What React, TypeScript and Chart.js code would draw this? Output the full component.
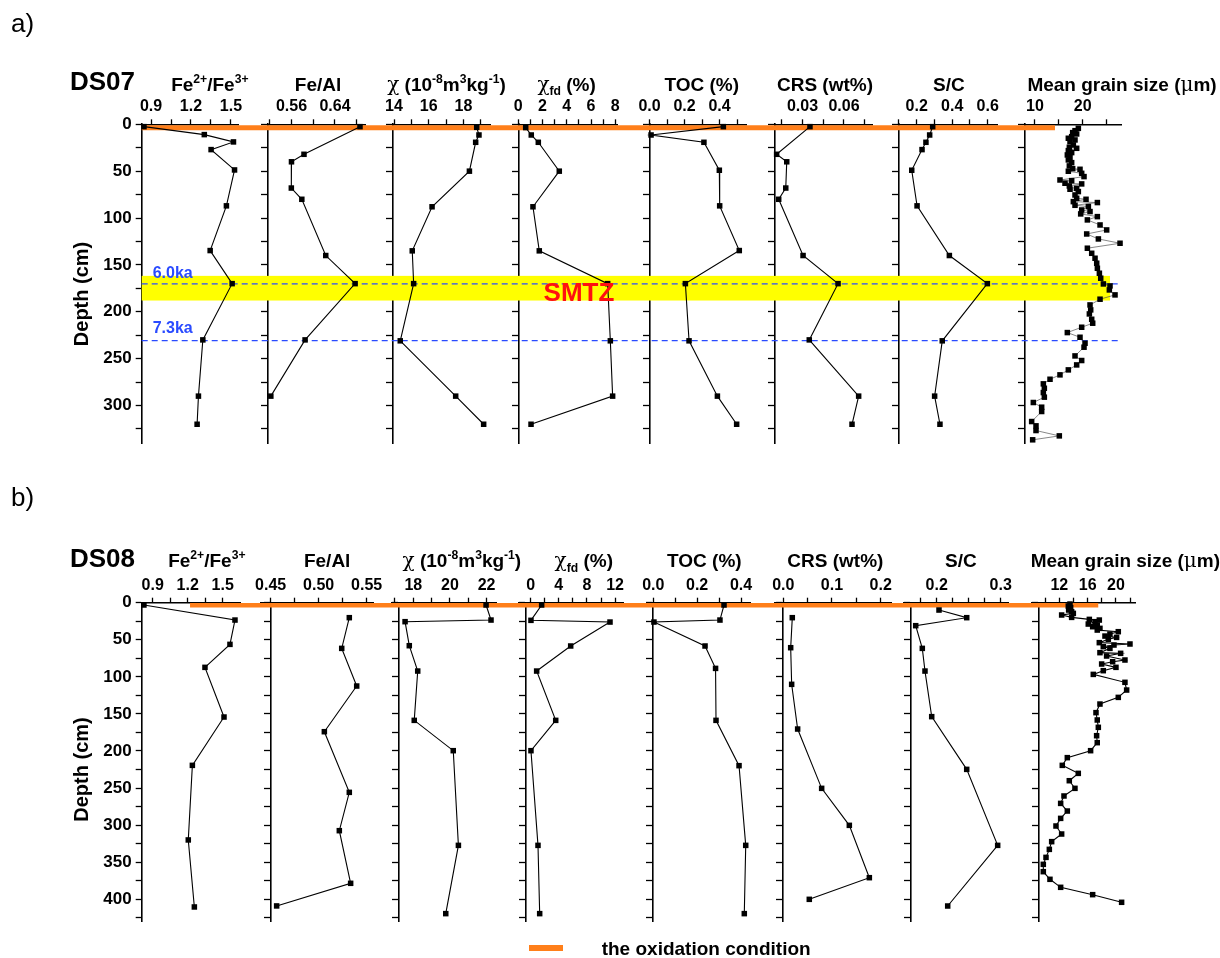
import React, { useEffect, useRef } from 'react';
import { Chart, registerables } from 'chart.js';

Chart.register(...registerables);

const FONT = '"Liberation Sans", Arial, Helvetica, sans-serif';
const ORANGE = '#ff7f1a';
const BLUE = '#2a4bff';

// ================= DS07 (row a) =================
const a1Depth = [2.5, 11, 18.8, 27, 48.7, 87, 134.7, 170, 230, 290, 320];
const a1Fe23 = [0.847, 1.3, 1.519, 1.351, 1.527, 1.466, 1.344, 1.509, 1.289, 1.256, 1.246];
const a2Depth = [2.5, 32, 40, 68, 80, 140, 170, 230, 290];
const a2FeAl = [0.686, 0.583, 0.56, 0.5597, 0.579, 0.623, 0.677, 0.585, 0.522];
const a3Depth = [3.2, 11.4, 19.2, 50, 88, 135, 170, 231, 290, 320];
const a3Chi = [18.76, 18.89, 18.7, 18.34, 16.19, 15.05, 15.13, 14.36, 17.55, 19.16];
const a4Depth = [3.5, 11.4, 19.2, 50, 88, 135, 170, 231, 290, 320];
const a4ChiFd = [0.61, 1.07, 1.65, 3.38, 1.21, 1.73, 7.37, 7.59, 7.78, 1.05];
const a5Depth = [2.5, 11.4, 19.2, 49, 87, 134.7, 170, 231, 290, 320];
const a5Toc = [0.422, 0.009, 0.311, 0.399, 0.401, 0.513, 0.205, 0.226, 0.388, 0.498];
const a6Depth = [2.5, 32, 40, 68, 80, 140, 170, 230, 290, 320];
const a6Crs = [0.0354, 0.0113, 0.0186, 0.0179, 0.0128, 0.0304, 0.0557, 0.0349, 0.0706, 0.0658];
const a7Depth = [2.5, 11.4, 19.2, 27, 49, 87, 140, 170, 231, 290, 320];
const a7SC = [0.29, 0.273, 0.252, 0.23, 0.172, 0.202, 0.384, 0.598, 0.344, 0.301, 0.331];
const a8Depth = [
  4.3, 6.8, 8.9, 10.3, 13.2, 14.9, 16.7, 18.5, 22.0, 24.5, 25.6, 28.1, 30.2, 32.7, 35.2, 38.0,
  40.9, 44.4, 47.3, 48.0, 50.1, 52.3, 55.8, 59.4, 60.1, 62.9, 63.6, 65.8, 68.3, 69.3, 71.8, 75.4,
  78.9, 80.0, 82.5, 83.5, 86.4, 87.8, 91.4, 93.1, 95.6, 98.5, 102.0, 107.4, 112.7, 117.0, 122.3,
  126.9, 132.2, 137.6, 142.9, 148.2, 153.6, 158.9, 164.2, 170.3, 172.4, 176.7, 182.0, 186.6,
  192.7, 198.0, 202.3, 208.0, 212.2, 216.5, 222.2, 227.2, 233.6, 237.8, 247.1, 252.0, 256.7,
  262.0, 267.3, 272.0, 276.9, 281.6, 286.2, 291.1, 296.8, 301.8, 306.4, 317.1, 321.7, 326.7,
  332.4, 336.6,
];
const a8Grain = [
  19.09, 18.39, 17.9, 18.74, 17.69, 16.99, 18.39, 17.34, 18.04, 17.2, 18.74, 16.99, 17.69, 16.78,
  17.34, 16.99, 17.69, 17.2, 17.9, 19.44, 16.99, 19.79, 20.28, 15.24, 17.69, 16.29, 19.79, 17.2,
  18.74, 17.34, 19.09, 18.39, 18.74, 20.7, 18.04, 23.08, 18.39, 21.19, 19.79, 21.54, 19.58, 23.08,
  20.98, 23.64, 25.03, 20.84, 23.29, 27.83, 20.98, 21.89, 22.59, 22.94, 23.08, 23.5, 23.78, 24.34,
  25.73, 25.59, 26.78, 23.64, 21.54, 21.68, 21.4, 21.89, 22.1, 19.79, 16.78, 19.44, 20.49, 20.28,
  18.39, 19.79, 18.74, 16.99, 15.24, 13.15, 11.75, 11.96, 11.75, 11.96, 9.65, 11.4, 11.4, 9.3,
  10.21, 10.21, 15.1, 9.51,
];

// ================= DS08 (row b) =================
const b1Depth = [3.1, 23.4, 56.2, 87.2, 154.2, 219.4, 320, 410.4];
const b1Fe23 = [0.825, 1.605, 1.562, 1.348, 1.511, 1.24, 1.205, 1.257];
const b2Depth = [20.2, 61.6, 112.4, 174, 255.8, 307.5, 378.5, 409];
const b2FeAl = [0.5319, 0.524, 0.5396, 0.5059, 0.5319, 0.5215, 0.5333, 0.4562];
const b3Depth = [3.1, 23.4, 25.6, 58, 92.2, 158.7, 199.6, 327.3, 419.4];
const b3Chi = [21.97, 22.24, 17.55, 17.78, 18.24, 18.05, 20.18, 20.46, 19.77];
const b4Depth = [3.1, 23.8, 26.1, 58.4, 92.2, 158.7, 199.6, 327.3, 419.4];
const b4ChiFd = [1.56, 0.04, 11.28, 5.69, 0.85, 3.56, 0.04, 1.04, 1.28];
const b5Depth = [3.1, 23.4, 26.1, 58.4, 88.6, 158.7, 219.8, 327.3, 419.4];
const b5Toc = [0.3225, 0.304, 0.003, 0.236, 0.284, 0.286, 0.391, 0.4215, 0.415];
const b6Depth = [20.2, 60.7, 110.1, 170.4, 250.4, 300.3, 370.9, 400.1];
const b6Crs = [0.0185, 0.0152, 0.0172, 0.0295, 0.0788, 0.1356, 0.1767, 0.0534];
const b7Depth = [9.9, 20.2, 31, 61.6, 92.2, 153.7, 224.8, 327.3, 409.1];
const b7SC = [0.2036, 0.2469, 0.1672, 0.1775, 0.1817, 0.1922, 0.2469, 0.2953, 0.2172];
const b8Depth = [
  1.8, 4.5, 6.7, 9.9, 12.1, 14.4, 16.6, 19.8, 22.5, 23.4, 25.6, 28.8, 30.1, 32.4, 34.6, 36.9,
  39.1, 42.3, 45.0, 46.8, 49.4, 53.9, 55.7, 57.1, 59.3, 61.6, 67.4, 68.3, 71.9, 77.3, 79.6, 82.7,
  87.2, 91.7, 96.7, 107.4, 117.8, 127.7, 136.7, 148.3, 158.2, 168.1, 179.4, 188.8, 199.6, 209.0,
  219.4, 230.2, 240.1, 250.4, 260.7, 270.7, 281.0, 290.9, 301.2, 312.0, 322.3, 332.7, 343.5,
  352.9, 362.8, 373.1, 383.9, 393.8, 404.1,
];
const b8Grain = [
  13.51, 13.27, 13.6, 13.32, 13.74, 13.98, 12.33, 13.74, 16.24, 17.65, 17.04, 16.09, 17.36, 16.71,
  17.74, 17.36, 20.33, 19.15, 18.45, 20.09, 18.92, 17.65, 21.98, 19.72, 18.21, 19.15, 17.74, 20.66,
  18.68, 21.27, 19.53, 17.98, 20.0, 18.21, 16.8, 21.27, 21.51, 20.33, 17.74, 17.18, 17.36, 17.51,
  17.27, 17.36, 16.42, 13.13, 12.42, 14.68, 13.41, 14.21, 12.66, 12.19, 13.13, 12.19, 11.53, 12.33,
  10.92, 10.59, 10.12, 9.74, 9.74, 10.68, 12.19, 16.71, 20.8,
];

// ================= Tick values / labels =================
const depthTicksA = [0, 25, 50, 75, 100, 125, 150, 175, 200, 225, 250, 275, 300, 325];
const depthLabelsA = ['0', '', '50', '', '100', '', '150', '', '200', '', '250', '', '300', ''];
const depthTicksB = [0, 25, 50, 75, 100, 125, 150, 175, 200, 225, 250, 275, 300, 325, 350, 375, 400, 425];
const depthLabelsB = ['0', '', '50', '', '100', '', '150', '', '200', '', '250', '', '300', '', '350', '', '400', ''];

const a1Ticks = [0.9, 1.05, 1.2, 1.35, 1.5];
const a1Labels = ['0.9', '', '1.2', '', '1.5'];
const a2Ticks = [0.52, 0.56, 0.6, 0.64, 0.68];
const a2Labels = ['', '0.56', '', '0.64', ''];
const a3Ticks = [14, 15, 16, 17, 18, 19];
const a3Labels = ['14', '', '16', '', '18', ''];
const a4Ticks = [0, 1, 2, 3, 4, 5, 6, 7, 8];
const a4Labels = ['0', '', '2', '', '4', '', '6', '', '8'];
const a5Ticks = [0, 0.1, 0.2, 0.3, 0.4, 0.5];
const a5Labels = ['0.0', '', '0.2', '', '0.4', ''];
const a6Ticks = [0.015, 0.03, 0.045, 0.06, 0.075];
const a6Labels = ['', '0.03', '', '0.06', ''];
const a7Ticks = [0.1, 0.2, 0.3, 0.4, 0.5, 0.6];
const a7Labels = ['', '0.2', '', '0.4', '', '0.6'];
const a8Ticks = [10, 15, 20, 25];
const a8Labels = ['10', '', '20', ''];

const b1Ticks = [0.9, 1.05, 1.2, 1.35, 1.5];
const b1Labels = ['0.9', '', '1.2', '', '1.5'];
const b2Ticks = [0.45, 0.475, 0.5, 0.525, 0.55];
const b2Labels = ['0.45', '', '0.50', '', '0.55'];
const b3Ticks = [17, 18, 19, 20, 21, 22];
const b3Labels = ['', '18', '', '20', '', '22'];
const b4Ticks = [0, 2, 4, 6, 8, 10, 12];
const b4Labels = ['0', '', '4', '', '8', '', '12'];
const b5Ticks = [0, 0.1, 0.2, 0.3, 0.4];
const b5Labels = ['0.0', '', '0.2', '', '0.4'];
const b6Ticks = [0, 0.05, 0.1, 0.15, 0.2];
const b6Labels = ['0.0', '', '0.1', '', '0.2'];
const b7Ticks = [0.175, 0.2, 0.225, 0.25, 0.275, 0.3];
const b7Labels = ['', '0.2', '', '', '', '0.3'];
const b8Ticks = [10, 12, 14, 16, 18, 20, 22];
const b8Labels = ['', '12', '', '16', '', '20', ''];

// ================= Titles (rich text segments) =================
type Seg = [string, string?];
const tFe23: Seg[] = [['Fe'], ['2+', 'sup'], ['/Fe'], ['3+', 'sup']];
const tFeAl: Seg[] = [['Fe/Al']];
const tChi: Seg[] = [['χ', 'g'], [' (10'], ['-8', 'sup'], ['m'], ['3', 'sup'], ['kg'], ['-1', 'sup'], [')']];
const tChiFd: Seg[] = [['χ', 'g'], ['fd', 'sub'], [' (%)']];
const tToc: Seg[] = [['TOC (%)']];
const tCrs: Seg[] = [['CRS (wt%)']];
const tSC: Seg[] = [['S/C']];
const tGrain: Seg[] = [['Mean grain size ('], ['μ', 'g'], ['m)']];

interface PanelSpec {
  id: number;
  title: Seg[];
  titleDx: number;
  min: number;
  max: number;
  yAt: number;
  width: number;
  gap: number;
  ticks: number[];
  labels: string[];
  depth: number[];
  values: number[];
  lineColor?: string;
  lineWidth?: number;
}

interface RowSpec {
  panels: PanelSpec[];
  yMax: number;
  depthTicks: number[];
  depthLabels: string[];
  canvasTop: number;
  canvasH: number;
  padTop: number;
  padBottom: number;
  padRight: number;
  titleRise: number;
  depthLabelAt: number;
  orange: { from: number; to: number; at: number; width: number };
  band?: { from: number; to: number; xEnd: number };
  dashes?: { at: number[]; xEnd: number; labels: string[]; rise: number[] };
  smtz?: { x: number; at: number };
}

const rowA: RowSpec = {
  panels: [
    { id: 1, title: tFe23, titleDx: 20, min: 0.83, max: 1.553, yAt: 0.83, width: 96.3, gap: 30, ticks: a1Ticks, labels: a1Labels, depth: a1Depth, values: a1Fe23 },
    { id: 2, title: tFeAl, titleDx: 1.5, min: 0.5168, max: 0.6952, yAt: 0.5168, width: 97, gap: 28, ticks: a2Ticks, labels: a2Labels, depth: a2Depth, values: a2FeAl },
    { id: 3, title: tChi, titleDx: 5, min: 13.942, max: 19.525, yAt: 13.942, width: 97, gap: 28.3, ticks: a3Ticks, labels: a3Labels, depth: a3Depth, values: a3Chi },
    { id: 4, title: tChiFd, titleDx: -1, min: 0, max: 8.14, yAt: 0, width: 98.7, gap: 32.5, ticks: a4Ticks, labels: a4Labels, depth: a4Depth, values: a4ChiFd },
    { id: 5, title: tToc, titleDx: 3.7, min: 0, max: 0.5554, yAt: 0, width: 97.2, gap: 28.3, ticks: a5Ticks, labels: a5Labels, depth: a5Depth, values: a5Toc },
    { id: 6, title: tCrs, titleDx: 1.5, min: 0.01012, max: 0.08025, yAt: 0.01012, width: 97, gap: 26.3, ticks: a6Ticks, labels: a6Labels, depth: a6Depth, values: a6Crs },
    { id: 7, title: tSC, titleDx: 1.3, min: 0.0963, max: 0.6524, yAt: 0.0963, width: 98.7, gap: 28, ticks: a7Ticks, labels: a7Labels, depth: a7Depth, values: a7SC },
    { id: 8, title: tGrain, titleDx: 48.7, min: 7.904, max: 28.18, yAt: 7.904, width: 96.7, gap: 0, ticks: a8Ticks, labels: a8Labels, depth: a8Depth, values: a8Grain, lineColor: '#555', lineWidth: 0.7 },
  ],
  yMax: 340,
  depthTicks: depthTicksA,
  depthLabels: depthLabelsA,
  canvasTop: 0,
  canvasH: 470,
  padTop: 89.3,
  padBottom: 27,
  padRight: 98.3,
  titleRise: 33.6,
  depthLabelAt: 181,
  orange: { from: 0.83, to: 14.19, at: 3.6, width: 5 },
  band: { from: 161.7, to: 188, xEnd: 25.72 },
  dashes: { at: [170.3, 230.7], xEnd: 27.8, labels: ['6.0ka', '7.3ka'], rise: [5.5, 8] },
  smtz: { x: 5.0, at: 188 },
};

const rowB: RowSpec = {
  panels: [
    { id: 1, title: tFe23, titleDx: 16, min: 0.806, max: 1.648, yAt: 0.806, width: 98.3, gap: 21, ticks: b1Ticks, labels: b1Labels, depth: b1Depth, values: b1Fe23 },
    { id: 2, title: tFeAl, titleDx: 10, min: 0.4399, max: 0.5569, yAt: 0.45, width: 112.3, gap: 18.4, ticks: b2Ticks, labels: b2Labels, depth: b2Depth, values: b2FeAl },
    { id: 3, title: tChi, titleDx: 17.7, min: 16.82, max: 22.55, yAt: 17.22, width: 105, gap: 21.6, ticks: b3Ticks, labels: b3Labels, depth: b3Depth, values: b3Chi },
    { id: 4, title: tChiFd, titleDx: 13, min: -1.76, max: 13.17, yAt: -0.71, width: 105, gap: 23.4, ticks: b4Ticks, labels: b4Labels, depth: b4Depth, values: b4ChiFd },
    { id: 5, title: tToc, titleDx: 6, min: -0.03, max: 0.441, yAt: 0, width: 103.3, gap: 25, ticks: b5Ticks, labels: b5Labels, depth: b5Depth, values: b5Toc },
    { id: 6, title: tCrs, titleDx: 2, min: -0.017, max: 0.2226, yAt: 0, width: 116.7, gap: 11.6, ticks: b6Ticks, labels: b6Labels, depth: b6Depth, values: b6Crs },
    { id: 7, title: tSC, titleDx: 5, min: 0.1478, max: 0.3119, yAt: 0.1594, width: 105, gap: 23.4, ticks: b7Ticks, labels: b7Labels, depth: b7Depth, values: b7SC },
    { id: 8, title: tGrain, titleDx: 42, min: 8.1, max: 22.69, yAt: 9.13, width: 103.3, gap: 0, ticks: b8Ticks, labels: b8Labels, depth: b8Depth, values: b8Grain },
  ],
  yMax: 430,
  depthTicks: depthTicksB,
  depthLabels: depthLabelsB,
  canvasTop: 470,
  canvasH: 488,
  padTop: 97.7,
  padBottom: 36.5,
  padRight: 85,
  titleRise: 35.4,
  depthLabelAt: 225,
  orange: { from: 1.22, to: 17.5, at: 3.5, width: 4.5 },
};

const Y_AXIS_W = 141.7;
const X_AXIS_H = 35;

function drawRich(ctx: CanvasRenderingContext2D, segs: Seg[], cx: number, baseline: number, size: number) {
  const parts = segs.map(([t, m]) => {
    const mode = m || 'n';
    const s = mode === 'sup' || mode === 'sub' ? size * 0.64 : size;
    const font = mode === 'g' ? `${size * 1.05}px "DejaVu Serif", serif` : `bold ${s}px ${FONT}`;
    ctx.font = font;
    const dy = mode === 'sup' ? -size * 0.42 : mode === 'sub' ? size * 0.24 : 0;
    return { t, font, w: ctx.measureText(t).width, dy };
  });
  const total = parts.reduce((acc, p) => acc + p.w, 0);
  let x = cx - total / 2;
  ctx.textAlign = 'left';
  ctx.textBaseline = 'alphabetic';
  ctx.fillStyle = '#000';
  for (const p of parts) {
    ctx.font = p.font;
    ctx.fillText(p.t, x, baseline + p.dy);
    x += p.w;
  }
}

function makeOverlay(row: RowSpec) {
  return {
    id: 'rowOverlay',
    beforeDatasetsDraw(chart: any) {
      const { ctx, scales } = chart;
      const ys = scales.y;
      const n = row.panels.length;
      const first = scales['x' + row.panels[0].id];
      const last = scales['x' + row.panels[n - 1].id];
      ctx.save();
      if (row.band) {
        const t = ys.getPixelForValue(row.band.from);
        const b = ys.getPixelForValue(row.band.to);
        const x2 = last.getPixelForValue(row.band.xEnd);
        ctx.fillStyle = '#ffff00';
        ctx.fillRect(first.left, t, x2 - first.left, b - t);
      }
      if (row.dashes) {
        ctx.strokeStyle = BLUE;
        ctx.lineWidth = 1.3;
        ctx.setLineDash([6, 4]);
        const x2 = last.getPixelForValue(row.dashes.xEnd);
        row.dashes.at.forEach((d) => {
          const y = ys.getPixelForValue(d);
          ctx.beginPath();
          ctx.moveTo(first.left, y);
          ctx.lineTo(x2, y);
          ctx.stroke();
        });
        ctx.setLineDash([]);
      }
      const o = row.orange;
      const oy = ys.getPixelForValue(o.at);
      ctx.strokeStyle = ORANGE;
      ctx.lineWidth = o.width;
      ctx.lineCap = 'butt';
      ctx.beginPath();
      ctx.moveTo(first.getPixelForValue(o.from), oy);
      ctx.lineTo(last.getPixelForValue(o.to), oy);
      ctx.stroke();
      ctx.restore();
    },
    afterDatasetsDraw(chart: any) {
      const { ctx, scales } = chart;
      const ys = scales.y;
      const first = scales['x' + row.panels[0].id];
      ctx.save();
      if (row.dashes) {
        ctx.fillStyle = BLUE;
        ctx.font = `bold 16px ${FONT}`;
        ctx.textAlign = 'left';
        ctx.textBaseline = 'alphabetic';
        row.dashes.labels.forEach((lab, i) => {
          ctx.fillText(lab, first.left + 11, ys.getPixelForValue(row.dashes!.at[i]) - row.dashes!.rise[i]);
        });
      }
      if (row.smtz) {
        ctx.fillStyle = '#ff1010';
        ctx.font = `bold 26px ${FONT}`;
        ctx.textAlign = 'center';
        ctx.textBaseline = 'alphabetic';
        ctx.fillText('SMTZ', scales.x4.getPixelForValue(row.smtz.x), ys.getPixelForValue(row.smtz.at));
      }
      ctx.restore();
    },
    afterDraw(chart: any) {
      const { ctx, scales, chartArea } = chart;
      ctx.save();
      row.panels.forEach((p) => {
        const s = scales['x' + p.id];
        drawRich(ctx, p.title, (s.left + s.right) / 2 + p.titleDx, chartArea.top - row.titleRise, 19);
      });
      const ys = scales.y;
      ctx.translate(chartArea.left - 59.5, ys.getPixelForValue(row.depthLabelAt));
      ctx.rotate(-Math.PI / 2);
      ctx.font = `bold 20px ${FONT}`;
      ctx.textAlign = 'center';
      ctx.textBaseline = 'middle';
      ctx.fillStyle = '#000';
      ctx.fillText('Depth (cm)', 0, 0);
      ctx.restore();
    },
  };
}

function buildConfig(row: RowSpec): any {
  const scales: any = {};
  const datasets: any[] = [];
  const n = row.panels.length;
  const depthTickBuild = (s: any) => {
    s.ticks = row.depthTicks.map((v) => ({ value: v }));
  };
  scales.y = {
    type: 'linear',
    axis: 'y',
    position: 'left',
    reverse: true,
    min: 0,
    max: row.yMax,
    afterFit: (s: any) => {
      s.width = Y_AXIS_W;
    },
    afterBuildTicks: depthTickBuild,
    ticks: {
      autoSkip: false,
      padding: 4,
      color: '#000',
      font: { family: FONT, size: 17, weight: 'bold' },
      callback: (_v: any, i: number) => row.depthLabels[i],
    },
    grid: { drawOnChartArea: false, drawTicks: true, tickLength: 6, tickWidth: 1.3, tickColor: '#000', color: '#000' },
    border: { display: true, color: '#000', width: 1.6 },
  };
  row.panels.forEach((p, i) => {
    const keep = p.ticks.map((v, k) => ({ v, l: p.labels[k] })).filter((t) => t.v >= p.min - 1e-9 && t.v <= p.max + 1e-9);
    scales['x' + p.id] = {
      type: 'linear',
      axis: 'x',
      position: 'top',
      stack: 'row',
      stackWeight: p.width,
      weight: 100 - 2 * i,
      min: p.min,
      max: p.max,
      afterFit: (s: any) => {
        s.height = X_AXIS_H;
      },
      afterBuildTicks: (s: any) => {
        s.ticks = keep.map((t) => ({ value: t.v }));
      },
      ticks: {
        autoSkip: false,
        maxRotation: 0,
        minRotation: 0,
        padding: 3,
        color: '#000',
        font: { family: FONT, size: 16, weight: 'bold' },
        callback: (_v: any, k: number) => keep[k].l,
      },
      grid: { drawOnChartArea: false, drawTicks: true, tickLength: 5, tickWidth: 1.3, tickColor: '#000', color: '#000' },
      border: { display: true, color: '#000', width: 1.6 },
    };
    if (i < n - 1) {
      scales['g' + p.id] = {
        type: 'linear',
        axis: 'x',
        position: 'top',
        stack: 'row',
        stackWeight: p.gap,
        weight: 99 - 2 * i,
        display: false,
        min: 0,
        max: 1,
      };
    }
    if (i > 0) {
      scales['y' + p.id] = {
        type: 'linear',
        axis: 'y',
        position: { ['x' + p.id]: p.yAt },
        reverse: true,
        min: 0,
        max: row.yMax,
        afterBuildTicks: depthTickBuild,
        ticks: { display: false },
        grid: { drawOnChartArea: false, drawTicks: true, tickLength: 6, tickWidth: 1.3, tickColor: '#000', color: '#000' },
        border: { display: true, color: '#000', width: 1.6 },
      };
    }
    datasets.push({
      data: p.depth.map((d, k) => ({ x: p.values[k], y: d })),
      xAxisID: 'x' + p.id,
      yAxisID: 'y',
      showLine: true,
      borderColor: p.lineColor || '#000',
      borderWidth: p.lineWidth || 1.1,
      pointStyle: 'rect',
      pointRadius: 3.9,
      pointBackgroundColor: '#000',
      pointBorderColor: '#000',
      pointBorderWidth: 0,
      clip: false,
    });
  });
  return {
    type: 'scatter',
    data: { datasets },
    options: {
      responsive: false,
      animation: false,
      devicePixelRatio: 1,
      events: [],
      layout: { padding: { left: 0, right: row.padRight, top: row.padTop, bottom: row.padBottom } },
      plugins: { legend: { display: false }, tooltip: { enabled: false }, title: { display: false } },
      scales,
    },
    plugins: [makeOverlay(row)],
  };
}

function RowChart({ row }: { row: RowSpec }) {
  const ref = useRef<HTMLCanvasElement>(null);
  useEffect(() => {
    const chart = new Chart(ref.current as HTMLCanvasElement, buildConfig(row));
    return () => chart.destroy();
  }, [row]);
  return (
    <canvas
      ref={ref}
      width={1220}
      height={row.canvasH}
      style={{ position: 'absolute', left: 0, top: row.canvasTop, width: 1220, height: row.canvasH }}
    />
  );
}

const abs = (left: number, top: number, extra: React.CSSProperties = {}): React.CSSProperties => ({
  position: 'absolute',
  left,
  top,
  whiteSpace: 'nowrap',
  ...extra,
});

export default function App() {
  return (
    <div style={{ position: 'absolute', left: 0, top: 0, width: 1220, height: 958, background: '#fff', fontFamily: FONT, overflow: 'hidden' }}>
      <RowChart row={rowA} />
      <RowChart row={rowB} />
      <div style={abs(11, 9.7, { fontSize: 26, lineHeight: '26px' })}>a)</div>
      <div style={abs(11, 483.7, { fontSize: 26, lineHeight: '26px' })}>b)</div>
      <div style={abs(70, 68, { fontSize: 26, lineHeight: '26px', fontWeight: 'bold' })}>DS07</div>
      <div style={abs(70, 544.7, { fontSize: 26, lineHeight: '26px', fontWeight: 'bold' })}>DS08</div>
      <div style={abs(529.3, 945, { width: 34, height: 6, background: ORANGE })} />
      <div style={abs(601.7, 939, { fontSize: 19, lineHeight: '19px', fontWeight: 'bold' })}>the oxidation condition</div>
    </div>
  );
}
